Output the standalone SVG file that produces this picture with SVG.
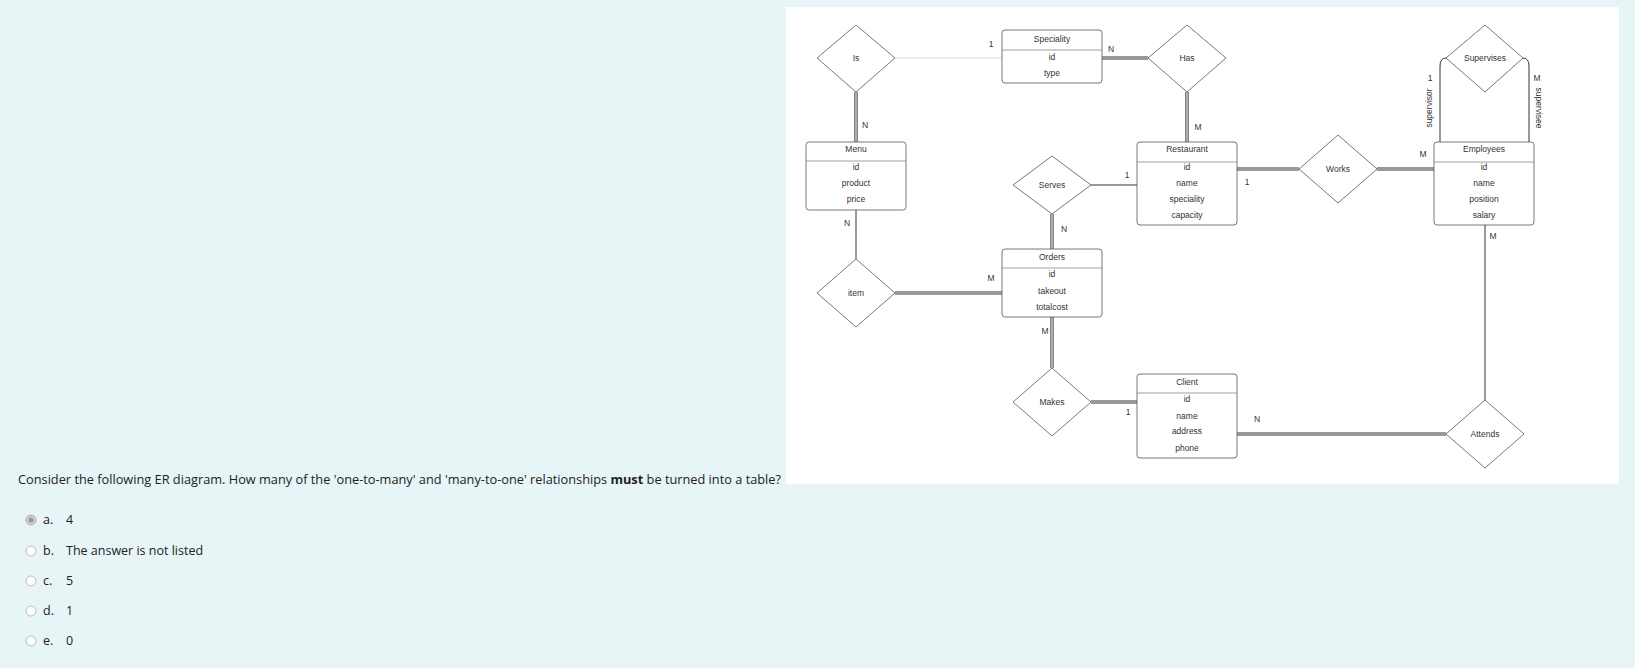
<svg xmlns="http://www.w3.org/2000/svg" width="1635" height="668" viewBox="0 0 1635 668">
<style>
.bg{fill:#e7f5f7}
.ent rect{fill:#fff;stroke:#555;stroke-width:0.8}
.ent line{stroke:#888;stroke-width:0.8}
.rel polygon{fill:#fff;stroke:#555;stroke-width:0.8}
text{font-family:"Liberation Sans",Arial,sans-serif;font-size:8.5px;fill:#333;text-anchor:middle;dominant-baseline:middle}
.lab{font-size:8.5px}
.q{font-family:"Open Sans","Noto Sans",sans-serif;font-size:12.5px;text-anchor:start;fill:#222}
.s{stroke:#333;stroke-width:1;fill:none}
.d{stroke:#333;stroke-width:3.2;fill:none}
.dw{stroke:#fff;stroke-width:1.2;fill:none}
</style>
<rect class="bg" width="1635" height="668"/>
<rect x="786" y="7" width="833" height="477" fill="#fff"/>
<g id="connectors">
<line x1="895" y1="58" x2="1002" y2="58" stroke="#ddd" stroke-width="1"/>
<path class="d" d="M1102 58H1148M1187 92V142M856 92V142M1052 214V249M895 293H1002M1052 317V368M1091 402H1137M1237 169H1299M1377 169H1434M1237 434H1446"/>
<path class="dw" d="M1102 58H1148M1187 92V142M856 92V142M1052 214V249M895 293H1002M1052 317V368M1091 402H1137M1237 169H1299M1377 169H1434M1237 434H1446"/>
<path class="s" d="M1091 185H1137M856 210V259M1485 225V400M1440 142V66Q1440 58 1446 58M1529 142V66Q1529 58 1523 58"/>
<text x="991" y="45">1</text><text x="1111" y="50">N</text><text x="1198" y="128">M</text>
<text x="865" y="126">N</text><text x="1127" y="176">1</text><text x="1064" y="230">N</text>
<text x="847" y="224">N</text><text x="991" y="279">M</text><text x="1045" y="332">M</text>
<text x="1128" y="413">1</text><text x="1247" y="183">1</text><text x="1423" y="155">M</text>
<text x="1430" y="79">1</text><text x="1537" y="79">M</text><text x="1493" y="237">M</text>
<text x="1257" y="420">N</text>
<text transform="translate(1430,108) rotate(-90)">supervisor</text>
<text transform="translate(1538,108) rotate(90)">supervisee</text>
</g>
<g id="Speciality" class="ent"><rect x="1002" y="30" width="100" height="53" rx="3"/><line x1="1002" y1="50" x2="1102" y2="50"/><text x="1052" y="40">Speciality</text><text x="1052" y="58">id</text><text x="1052" y="74">type</text></g>
<g id="Menu" class="ent"><rect x="806" y="142" width="100" height="68" rx="3"/><line x1="806" y1="161" x2="906" y2="161"/><text x="856" y="150">Menu</text><text x="856" y="168">id</text><text x="856" y="184">product</text><text x="856" y="200">price</text></g>
<g id="Restaurant" class="ent"><rect x="1137" y="142" width="100" height="83" rx="3"/><line x1="1137" y1="162" x2="1237" y2="162"/><text x="1187" y="150">Restaurant</text><text x="1187" y="168">id</text><text x="1187" y="184">name</text><text x="1187" y="200">speciality</text><text x="1187" y="216">capacity</text></g>
<g id="Employees" class="ent"><rect x="1434" y="142" width="100" height="83" rx="3"/><line x1="1434" y1="162" x2="1534" y2="162"/><text x="1484" y="150">Employees</text><text x="1484" y="168">id</text><text x="1484" y="184">name</text><text x="1484" y="200">position</text><text x="1484" y="216">salary</text></g>
<g id="Orders" class="ent"><rect x="1002" y="249" width="100" height="68" rx="3"/><line x1="1002" y1="268" x2="1102" y2="268"/><text x="1052" y="258">Orders</text><text x="1052" y="275">id</text><text x="1052" y="292">takeout</text><text x="1052" y="308">totalcost</text></g>
<g id="Client" class="ent"><rect x="1137" y="374" width="100" height="84" rx="3"/><line x1="1137" y1="393" x2="1237" y2="393"/><text x="1187" y="383">Client</text><text x="1187" y="400">id</text><text x="1187" y="417">name</text><text x="1187" y="432">address</text><text x="1187" y="449">phone</text></g>
<g id="Is" class="rel"><polygon points="856,25 895,58 856,92 817,58"/><text x="856" y="59">Is</text></g>
<g id="Has" class="rel"><polygon points="1187,25 1226,58 1187,92 1148,58"/><text x="1187" y="59">Has</text></g>
<g id="Supervises" class="rel"><polygon points="1485,25 1523,58 1485,92 1446,58"/><text x="1485" y="59">Supervises</text></g>
<g id="Serves" class="rel"><polygon points="1052,156 1091,185 1052,214 1013,185"/><text x="1052" y="186">Serves</text></g>
<g id="Works" class="rel"><polygon points="1338,135 1377,169 1338,203 1299,169"/><text x="1338" y="170">Works</text></g>
<g id="item" class="rel"><polygon points="856,259 895,293 856,327 817,293"/><text x="856" y="294">item</text></g>
<g id="Makes" class="rel"><polygon points="1052,368 1091,402 1052,436 1013,402"/><text x="1052" y="403">Makes</text></g>
<g id="Attends" class="rel"><polygon points="1485,400 1524,434 1485,468 1446,434"/><text x="1485" y="435">Attends</text></g>
<text class="q" x="18" y="481" textLength="763" lengthAdjust="spacingAndGlyphs">Consider the following ER diagram. How many of the 'one-to-many' and 'many-to-one' relationships <tspan font-weight="bold">must</tspan> be turned into a table?</text>
<g fill="#fff" stroke="#aaa" stroke-width="0.8"><circle cx="31" cy="520" r="5" fill="#ccc"/><circle cx="31" cy="551" r="5"/><circle cx="31" cy="581" r="5"/><circle cx="31" cy="611" r="5"/><circle cx="31" cy="641" r="5"/></g>
<circle cx="31" cy="520" r="2.5" fill="#999"/>
<text class="q" x="43" y="521">a.</text><text class="q" x="66" y="521">4</text>
<text class="q" x="43" y="552">b.</text><text class="q" x="66" y="552">The answer is not listed</text>
<text class="q" x="43" y="582">c.</text><text class="q" x="66" y="582">5</text>
<text class="q" x="43" y="612">d.</text><text class="q" x="66" y="612">1</text>
<text class="q" x="43" y="642">e.</text><text class="q" x="66" y="642">0</text>
</svg>
